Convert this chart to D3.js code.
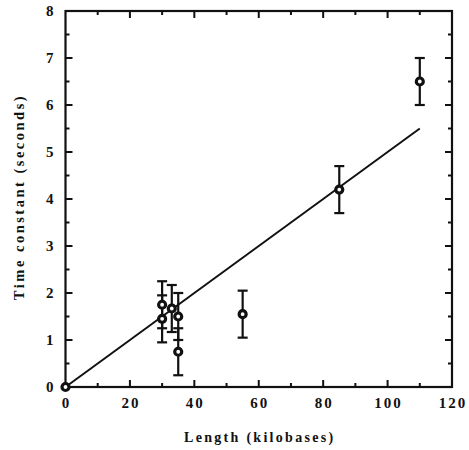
<!DOCTYPE html>
<html>
<head>
<meta charset="utf-8">
<script src="https://cdn.jsdelivr.net/npm/d3@7"></script>
<style>
  body { margin: 0; background: #fff; }
  text { font-family: "Liberation Serif", "DejaVu Serif", serif; font-weight: bold; fill: #111; }
</style>
</head>
<body>
<svg id="chart" width="469" height="450"></svg>
<script>
// Measured points (length in kb, time constant in s, error half-width)
const lengths = [0, 30, 30, 33, 35, 35, 55, 85, 110];
const timeConstants = [0, 1.75, 1.45, 1.67, 1.5, 0.75, 1.55, 4.2, 6.5];
const errors = [0, 0.5, 0.5, 0.5, 0.5, 0.5, 0.5, 0.5, 0.5];

// Fitted line endpoints
const fitX = [0, 110];
const fitY = [0, 5.5];

const xTicks = [0, 20, 40, 60, 80, 100, 120];
const yTicks = [0, 1, 2, 3, 4, 5, 6, 7, 8];

const svg = d3.select("#chart");
const margin = { left: 65.5, right: 17, top: 11, bottom: 63 };
const W = 469, H = 450;

const x = d3.scaleLinear().domain([0, 120]).range([margin.left, W - margin.right]);
const y = d3.scaleLinear().domain([0, 8]).range([H - margin.bottom, margin.top]);

const ink = "#111";

// Frame
svg.append("rect")
    .attr("x", x(0)).attr("y", y(8))
    .attr("width", x(120) - x(0)).attr("height", y(0) - y(8))
    .attr("fill", "none").attr("stroke", ink).attr("stroke-width", 2.2);

// Inward ticks on all four sides
const xMinor = d3.range(10, 120, 20);
const yMinor = d3.range(0.5, 8, 1);
const major = 7, minor = 4;
const tickG = svg.append("g").attr("stroke", ink).attr("stroke-width", 2);

function xTickLines(vals, len) {
    vals.forEach(v => {
        tickG.append("line").attr("x1", x(v)).attr("x2", x(v)).attr("y1", y(0)).attr("y2", y(0) - len);
        tickG.append("line").attr("x1", x(v)).attr("x2", x(v)).attr("y1", y(8)).attr("y2", y(8) + len);
    });
}
function yTickLines(vals, len) {
    vals.forEach(v => {
        tickG.append("line").attr("y1", y(v)).attr("y2", y(v)).attr("x1", x(0)).attr("x2", x(0) + len);
        tickG.append("line").attr("y1", y(v)).attr("y2", y(v)).attr("x1", x(120)).attr("x2", x(120) - len);
    });
}
xTickLines(xTicks.slice(1, -1), major);
xTickLines(xMinor, minor);
yTickLines(yTicks.slice(1, -1), major);
yTickLines(yMinor, minor);

// Tick labels
svg.append("g").selectAll("text").data(xTicks).join("text")
    .attr("x", d => x(d) + 1).attr("y", y(0) + 21)
    .attr("text-anchor", "middle").attr("font-size", 15)
    .attr("letter-spacing", 2)
    .text(d => d);

svg.append("g").selectAll("text").data(yTicks).join("text")
    .attr("x", x(0) - 12).attr("y", d => y(d) + 5)
    .attr("text-anchor", "end").attr("font-size", 15)
    .text(d => d);

// Axis titles
svg.append("text")
    .attr("x", (x(0) + x(120)) / 2 + 1).attr("y", 442)
    .attr("text-anchor", "middle").attr("font-size", 14)
    .attr("letter-spacing", 2.3)
    .text("Length (kilobases)");

svg.append("text")
    .attr("transform", `translate(24,${(y(0) + y(8)) / 2 - 2}) rotate(-90)`)
    .attr("text-anchor", "middle").attr("font-size", 14.5)
    .attr("letter-spacing", 2.5)
    .text("Time constant (seconds)");

// Fit line
svg.append("line")
    .attr("x1", x(fitX[0])).attr("y1", y(fitY[0]))
    .attr("x2", x(fitX[1])).attr("y2", y(fitY[1]))
    .attr("stroke", ink).attr("stroke-width", 2);

// Error bars
const pts = lengths.map((l, i) => ({ l, t: timeConstants[i], e: errors[i] }));
const eb = svg.append("g").attr("stroke", ink).attr("stroke-width", 2.2);
pts.filter(d => d.e > 0).forEach(d => {
    eb.append("line").attr("x1", x(d.l)).attr("x2", x(d.l)).attr("y1", y(d.t - d.e)).attr("y2", y(d.t + d.e));
    [d.t - d.e, d.t + d.e].forEach(v => {
        eb.append("line").attr("x1", x(d.l) - 5).attr("x2", x(d.l) + 5).attr("y1", y(v)).attr("y2", y(v));
    });
});

// Markers
svg.append("g").selectAll("circle").data(pts).join("circle")
    .attr("cx", d => x(d.l)).attr("cy", d => y(d.t))
    .attr("r", 3.5)
    .attr("fill", "#fff").attr("stroke", ink).attr("stroke-width", 3.2);
</script>
</body>
</html>
